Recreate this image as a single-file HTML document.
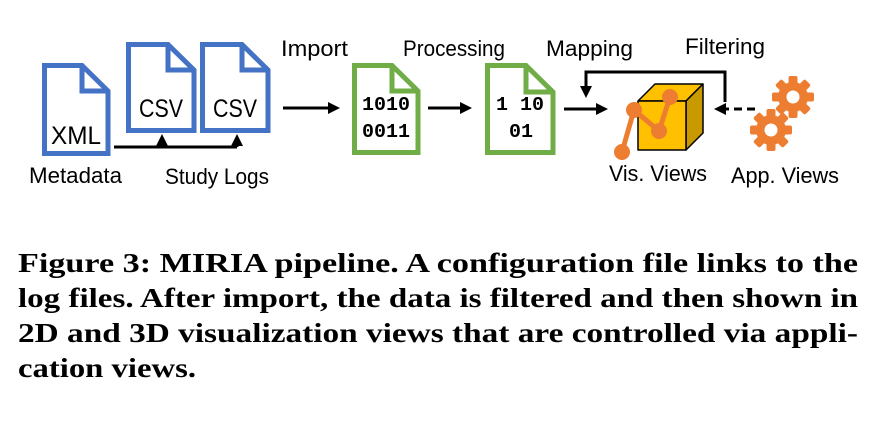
<!DOCTYPE html>
<html><head><meta charset="utf-8"><style>
html,body{margin:0;padding:0;background:#fff;width:876px;height:426px;overflow:hidden}
</style></head><body>
<svg width="876" height="426" viewBox="0 0 876 426" xmlns="http://www.w3.org/2000/svg">
<defs>
<marker id="ah" markerWidth="4" markerHeight="4" refX="3" refY="2" orient="auto" markerUnits="strokeWidth"><path d="M0,0 L4,2 L0,4 Z" fill="#000"/></marker>
</defs>
<g fill="#fff" stroke-width="5" stroke-linejoin="miter">
<path d="M44.5,65.5 H82 L108,91 V153.5 H44.5 Z" stroke="#4472C4"/>
<path d="M82,65.5 V91 H108" fill="none" stroke="#4472C4"/>
<path d="M128.5,44.5 H168 L194,70 V130.5 H128.5 Z" stroke="#4472C4"/>
<path d="M168,44.5 V70 H194" fill="none" stroke="#4472C4"/>
<path d="M202.5,44.5 H242 L268,70 V130.5 H202.5 Z" stroke="#4472C4"/>
<path d="M242,44.5 V70 H268" fill="none" stroke="#4472C4"/>
<path d="M354.5,65.5 H392 L418,91 V152.5 H354.5 Z" stroke="#70AD47"/>
<path d="M392,65.5 V91 H418" fill="none" stroke="#70AD47"/>
<path d="M487.5,65.5 H526 L553,92 V152.5 H487.5 Z" stroke="#70AD47"/>
<path d="M526,65.5 V92 H553" fill="none" stroke="#70AD47"/>
</g>
<g font-family="Liberation Sans, sans-serif" font-size="22" fill="#000">
<text x="76" y="144" text-anchor="middle" font-size="25" textLength="50" lengthAdjust="spacingAndGlyphs">XML</text>
<text x="161" y="117" text-anchor="middle" font-size="25" textLength="44" lengthAdjust="spacingAndGlyphs">CSV</text>
<text x="235" y="117" text-anchor="middle" font-size="25" textLength="44" lengthAdjust="spacingAndGlyphs">CSV</text>
<text x="29" y="183" textLength="93" lengthAdjust="spacingAndGlyphs">Metadata</text>
<text x="165" y="184" textLength="104" lengthAdjust="spacingAndGlyphs">Study Logs</text>
<text x="281" y="56" textLength="67" lengthAdjust="spacingAndGlyphs">Import</text>
<text x="403" y="56" textLength="102" lengthAdjust="spacingAndGlyphs">Processing</text>
<text x="546" y="56" textLength="87" lengthAdjust="spacingAndGlyphs">Mapping</text>
<text x="685" y="54" textLength="80" lengthAdjust="spacingAndGlyphs">Filtering</text>
<text x="609" y="181" textLength="98" lengthAdjust="spacingAndGlyphs">Vis. Views</text>
<text x="731" y="183" textLength="108" lengthAdjust="spacingAndGlyphs">App. Views</text>
</g>
<g font-family="Liberation Mono, monospace" font-weight="bold" font-size="19" fill="#000">
<text x="386" y="110" text-anchor="middle" textLength="48" lengthAdjust="spacingAndGlyphs">1010</text>
<text x="386" y="137" text-anchor="middle" textLength="48" lengthAdjust="spacingAndGlyphs">0011</text>
<text x="520" y="110" text-anchor="middle" textLength="48" lengthAdjust="spacingAndGlyphs">1 10</text>
<text x="521" y="137" text-anchor="middle" textLength="24" lengthAdjust="spacingAndGlyphs">01</text>
</g>
<g stroke="#000" stroke-width="3" fill="none">
<path d="M114,147 H237"/>
<path d="M162,147 V137" marker-end="url(#ah)"/>
<path d="M237,147 V137" marker-end="url(#ah)"/>
<path d="M283,108 H337" marker-end="url(#ah)"/>
<path d="M428,108 H469" marker-end="url(#ah)"/>
<path d="M564,109 H605" marker-end="url(#ah)"/>
<path d="M725,102 V72 H586 V95" marker-end="url(#ah)"/>
<path d="M755,109 H717" stroke-dasharray="8,5" marker-end="url(#ah)"/>
</g>
<g stroke="#000" stroke-width="1.5" stroke-linejoin="round">
<path d="M638,101 L655,84 H703 L686,101 Z" fill="#FFC000"/>
<path d="M686,101 L703,84 V133 L686,150 Z" fill="#C99A00"/>
<rect x="638" y="101" width="48" height="49" fill="#FFC000"/>
</g>
<g stroke="#ED7D31" stroke-width="5" fill="#ED7D31">
<path d="M622,152 L634,110 L659,131 L670,97" fill="none"/>
<circle cx="622" cy="152" r="8" stroke="none"/>
<circle cx="634" cy="110" r="8" stroke="none"/>
<circle cx="659" cy="131" r="8" stroke="none"/>
<circle cx="670" cy="97" r="8" stroke="none"/>
</g>
<g fill="#ED7D31">
<g transform="translate(793,97)">
<circle r="15"/>
<g><rect x="-4.5" y="-21" width="9" height="42" rx="2"/><rect x="-4.5" y="-21" width="9" height="42" rx="2" transform="rotate(45)"/><rect x="-4.5" y="-21" width="9" height="42" rx="2" transform="rotate(90)"/><rect x="-4.5" y="-21" width="9" height="42" rx="2" transform="rotate(135)"/></g>
<circle r="6.5" fill="#fff"/>
</g>
<g transform="translate(771,130)">
<circle r="15"/>
<g><rect x="-4.5" y="-21" width="9" height="42" rx="2"/><rect x="-4.5" y="-21" width="9" height="42" rx="2" transform="rotate(45)"/><rect x="-4.5" y="-21" width="9" height="42" rx="2" transform="rotate(90)"/><rect x="-4.5" y="-21" width="9" height="42" rx="2" transform="rotate(135)"/></g>
<circle r="6.5" fill="#fff"/>
</g>
</g>
<g font-family="Liberation Serif, serif" font-weight="bold" font-size="27" fill="#000">
<text x="18" y="272" textLength="840" lengthAdjust="spacingAndGlyphs">Figure 3: MIRIA pipeline. A configuration file links to the</text>
<text x="18" y="307" textLength="840" lengthAdjust="spacingAndGlyphs">log files. After import, the data is filtered and then shown in</text>
<text x="18" y="342" textLength="840" lengthAdjust="spacingAndGlyphs">2D and 3D visualization views that are controlled via appli-</text>
<text x="18" y="377" textLength="178" lengthAdjust="spacingAndGlyphs">cation views.</text>
</g>
</svg>
</body></html>
